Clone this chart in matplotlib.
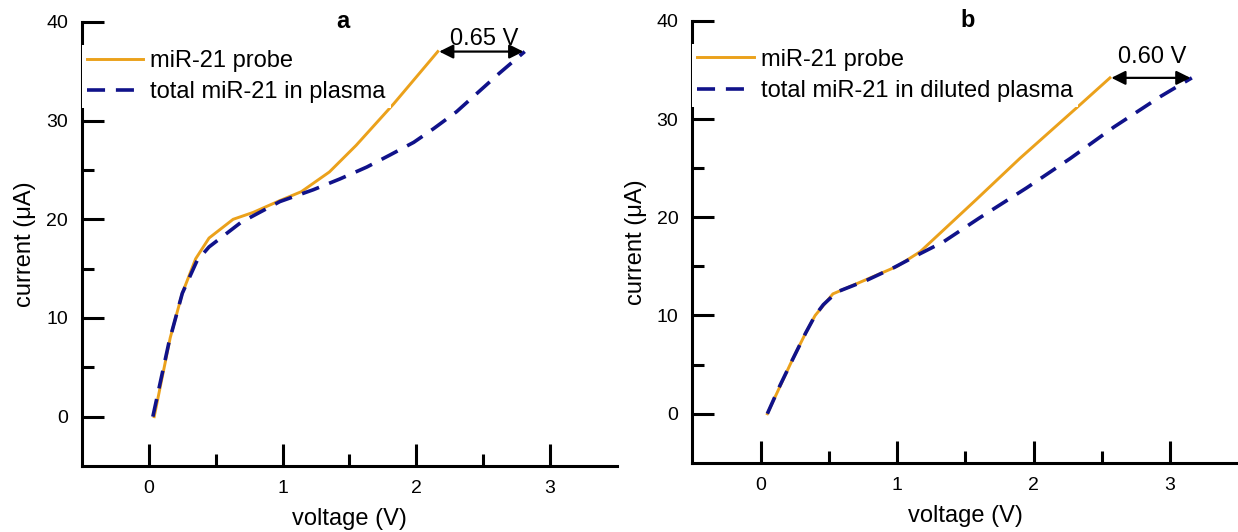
import matplotlib
matplotlib.use("Agg")
import matplotlib.pyplot as plt
from matplotlib.ticker import FixedLocator

plt.rcParams['font.family'] = ['Liberation Sans', 'DejaVu Sans']

# Panel a: voltage (V) vs current (uA)
probe_a_v = [0.04, 0.16, 0.25, 0.35, 0.45, 0.63, 0.78, 0.98, 1.14, 1.35, 1.55, 1.83, 2.16]
probe_a_i = [0.0, 8.0, 12.5, 16.0, 18.1, 20.0, 20.7, 21.9, 22.8, 24.8, 27.5, 31.7, 37.0]
total_a_v = [0.03, 0.15, 0.25, 0.36, 0.45, 0.69, 0.98, 1.23, 1.43, 1.63, 1.80, 1.98, 2.13, 2.30, 2.62, 2.81]
total_a_i = [0.0, 7.5, 12.5, 15.8, 17.2, 19.7, 21.8, 23.0, 24.1, 25.3, 26.5, 27.8, 29.2, 30.9, 34.8, 37.0]

# Panel b
probe_b_v = [0.05, 0.22, 0.33, 0.40, 0.53, 1.00, 1.17, 1.58, 1.90, 2.32, 2.56]
probe_b_i = [0.0, 5.1, 8.2, 10.0, 12.2, 15.0, 16.5, 21.8, 26.0, 31.2, 34.2]
total_b_v = [0.05, 0.14, 0.22, 0.33, 0.40, 0.46, 0.56, 0.78, 0.98, 1.17, 1.34, 1.60, 1.95, 2.27, 2.59, 2.93, 3.16]
total_b_i = [0.0, 2.8, 5.1, 8.2, 10.0, 11.1, 12.4, 13.6, 14.9, 16.3, 17.5, 19.9, 23.0, 26.0, 29.2, 32.3, 34.2]

panel_titles = ['a', 'b']
probe_label = 'miR-21 probe'
total_labels = ['total miR-21 in plasma', 'total miR-21 in diluted plasma']
x_ticks = [0, 1, 2, 3]
x_minor = [0.5, 1.5, 2.5]
y_ticks = [0, 10, 20, 30, 40]
y_minor = [5, 15, 25, 35]

ORANGE = '#EBA11B'
NAVY = '#10128A'

fig = plt.figure(figsize=(12.38, 5.32), dpi=100)
ax_a = fig.add_axes([0.0662, 0.1241, 0.4322, 0.8346])
ax_b = fig.add_axes([0.5592, 0.1301, 0.4410, 0.8306])

panels = [
    (ax_a, probe_a_v, probe_a_i, total_a_v, total_a_i, 1.45, (2.51, 37.66)),
    (ax_b, probe_b_v, probe_b_i, total_b_v, total_b_i, 1.52, (2.87, 35.7)),
]

for k, (ax, pv, pi, tv, ti, title_x, txt_pos) in enumerate(panels):
    ax.plot(pv, pi, color=ORANGE, lw=2.1, solid_joinstyle='miter', label=probe_label)
    ax.plot(tv, ti, color=NAVY, lw=2.6, dashes=(5, 3), label=total_labels[k])

    ax.set_xlim(-0.5, 3.5)
    ax.set_ylim(-5, 40)
    for side in ('top', 'right'):
        ax.spines[side].set_visible(False)
    for side in ('left', 'bottom'):
        ax.spines[side].set_linewidth(2.2)

    ax.xaxis.set_major_locator(FixedLocator(x_ticks))
    ax.xaxis.set_minor_locator(FixedLocator(x_minor))
    ax.yaxis.set_major_locator(FixedLocator(y_ticks))
    ax.yaxis.set_minor_locator(FixedLocator(y_minor))
    ax.tick_params(which='major', direction='in', length=16, width=2.2, labelsize=14, pad=10)
    ax.tick_params(which='minor', direction='in', length=8.5, width=2.2)

    ax.set_xlabel('voltage (V)', fontsize=17, labelpad=8)
    ax.set_ylabel('current (\u03bcA)', fontsize=17, labelpad=7)

    ax.text(title_x, 40, panel_titles[k], fontsize=17, fontweight='bold',
            ha='center', va='center')

    # Potential shift between the two curves at their end points
    y_arrow = pi[-1]
    ax.annotate('', xy=(tv[-1], y_arrow), xytext=(pv[-1], y_arrow),
                arrowprops=dict(arrowstyle='<|-|>', color='black', lw=1.6,
                                mutation_scale=21, shrinkA=1, shrinkB=1))
    shift = tv[-1] - pv[-1]
    ax.text(txt_pos[0], txt_pos[1], f'{shift:.2f} V', fontsize=17,
            ha='center', va='baseline')

    leg = ax.legend(loc='upper left', bbox_to_anchor=(0.0, 0.948), fontsize=17,
                    frameon=True, fancybox=False, framealpha=1.0,
                    facecolor='white', edgecolor='none',
                    borderaxespad=0, borderpad=0.2, handlelength=2.4,
                    handletextpad=0.3, labelspacing=0.4)

fig.savefig('out.png', dpi=100)
